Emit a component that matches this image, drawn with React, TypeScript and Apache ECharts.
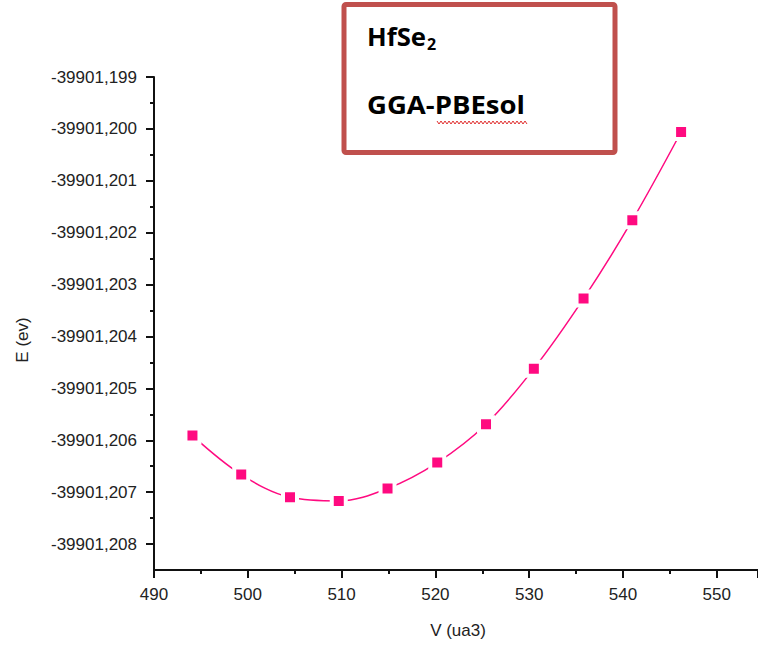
import React, { useEffect, useRef } from "react";
import * as echarts from "echarts";

const volume = [494.1, 499.3, 504.5, 509.7, 514.9, 520.2, 525.4, 530.5, 535.8, 541.0, 546.2];
const energy = [
  -39901.20591, -39901.20666, -39901.2071, -39901.20717, -39901.20693, -39901.20643,
  -39901.20569, -39901.20462, -39901.20327, -39901.20176, -39901.20006,
];
const yMajorTicks = [
  -39901.208, -39901.207, -39901.206, -39901.205, -39901.204, -39901.203, -39901.202,
  -39901.201, -39901.2, -39901.199,
];
const yMinorTicks = [
  -39901.2075, -39901.2065, -39901.2055, -39901.2045, -39901.2035, -39901.2025,
  -39901.2015, -39901.2005, -39901.1995,
];
const xTitle = "V (ua3)";
const yTitle = "E (ev)";
const boxLine1 = "HfSe";
const boxSub = "2";
const boxLine2 = "GGA-PBEsol";

const FONT = "'Liberation Sans', Arial, sans-serif";
const BOXFONT = "'Open Sans', 'Liberation Sans', sans-serif";

function measure(text: string, font: string): number {
  const c = document.createElement("canvas").getContext("2d");
  if (!c) return text.length * 12;
  c.font = font;
  return c.measureText(text).width;
}

export default function App() {
  const ref = useRef<HTMLDivElement>(null);
  useEffect(() => {
    if (!ref.current) return;
    const chart = echarts.init(ref.current, null, { renderer: "svg" });
    const boxFont = `bold 25px ${BOXFONT}`;
    const w1 = measure(boxLine1, `bold 25px 'Open Sans'`) || 57;
    const w2 = measure(boxLine2, `bold 25px 'Open Sans'`) || 144;
    const s1 = 59 / w1;
    const s2 = 158 / w2;
    const wave: number[][] = [];
    for (let x = 437, k = 0; x <= 528; x += 2, k++) {
      wave.push([x, k % 2 === 0 ? 121 : 124]);
    }
    const axisColor = "#111";
    const labelColor = "#222";
    chart.setOption({
      animation: false,
      backgroundColor: "#fff",
      grid: { left: 154, top: 77, width: 604, height: 493, containLabel: false },
      xAxis: {
        type: "value",
        min: 490,
        max: 554.4,
        interval: 10,
        axisLine: { show: true, lineStyle: { color: axisColor, width: 2 } },
        axisTick: { show: true, length: 8, lineStyle: { color: axisColor, width: 2 } },
        minorTick: { show: true, splitNumber: 2, length: 4, lineStyle: { color: axisColor, width: 2 } },
        splitLine: { show: false },
        axisLabel: {
          color: labelColor,
          fontSize: 17,
          fontFamily: FONT,
          margin: 16,
          showMaxLabel: false,
          formatter: (v: number) => (v > 550 ? "" : String(v)),
        },
      },
      yAxis: [
        {
          type: "value",
          min: -39901.2085,
          max: -39901.199,
          position: "left",
          axisLine: { show: true, onZero: false, lineStyle: { color: axisColor, width: 2 } },
          axisTick: {
            show: true,
            length: 8,
            customValues: yMajorTicks,
            lineStyle: { color: axisColor, width: 2 },
          },
          splitLine: { show: false },
          axisLabel: {
            customValues: yMajorTicks,
            color: labelColor,
            fontSize: 17,
            fontFamily: FONT,
            margin: 17,
            formatter: (v: number) => v.toFixed(3).replace(".", ","),
          },
        },
        {
          type: "value",
          min: -39901.2085,
          max: -39901.199,
          position: "left",
          offset: 0,
          axisLine: { show: false },
          axisTick: {
            show: true,
            length: 4,
            customValues: yMinorTicks,
            lineStyle: { color: axisColor, width: 2 },
          },
          splitLine: { show: false },
          axisLabel: { show: false },
        },
      ],
      series: [
        {
          type: "line",
          data: volume.map((v, i) => [v, energy[i]]),
          xAxisIndex: 0,
          yAxisIndex: 0,
          smooth: 0.35,
          symbol: "rect",
          symbolSize: 14,
          lineStyle: { color: "#ff0a80", width: 1.5 },
          itemStyle: { color: "#ff0a80", borderColor: "#ffffff", borderWidth: 4 },
          z: 3,
        },
      ],
      graphic: [
        {
          type: "text",
          x: 22,
          y: 340,
          rotation: Math.PI / 2,
          style: {
            text: yTitle,
            fill: labelColor,
            font: `17px ${FONT}`,
            textAlign: "center",
            textVerticalAlign: "middle",
          },
        },
        {
          type: "text",
          x: 458,
          y: 630,
          style: {
            text: xTitle,
            fill: labelColor,
            font: `17px ${FONT}`,
            textAlign: "center",
            textVerticalAlign: "middle",
          },
        },
        {
          type: "rect",
          shape: { x: 344, y: 4.5, width: 271, height: 148, r: 2 },
          style: { fill: "#fff", stroke: "#c0504d", lineWidth: 5 },
          z: 10,
        },
        {
          type: "text",
          x: 367,
          y: 36,
          scaleX: s1,
          style: {
            text: boxLine1,
            fill: "#000",
            font: boxFont,
            textAlign: "left",
            textVerticalAlign: "middle",
          },
          z: 11,
        },
        {
          type: "text",
          x: 367 + 60,
          y: 44,
          style: {
            text: boxSub,
            fill: "#000",
            font: `bold 16px ${BOXFONT}`,
            textAlign: "left",
            textVerticalAlign: "middle",
          },
          z: 11,
        },
        {
          type: "text",
          x: 367,
          y: 104,
          scaleX: s2,
          style: {
            text: boxLine2,
            fill: "#000",
            font: boxFont,
            textAlign: "left",
            textVerticalAlign: "middle",
          },
          z: 11,
        },
        {
          type: "polyline",
          shape: { points: wave },
          style: { stroke: "#e03030", lineWidth: 1, fill: null },
          z: 12,
        },
      ],
    });
    return () => chart.dispose();
  }, []);
  return (
    <div
      ref={ref}
      style={{ position: "absolute", left: 0, top: 0, width: 758, height: 652, background: "#fff" }}
    />
  );
}
